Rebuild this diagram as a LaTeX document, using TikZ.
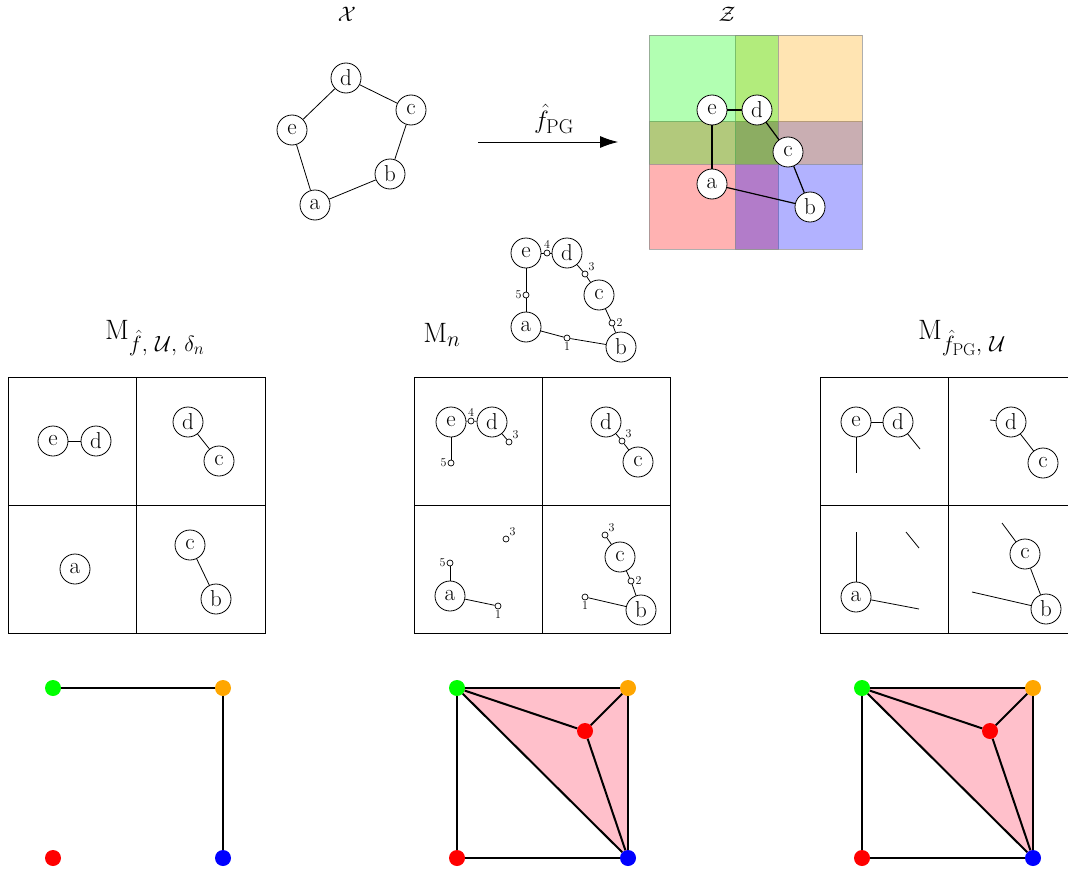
\RequirePackage{fix-cm}
\documentclass[tikz,border=0pt]{standalone}
\usetikzlibrary{arrows.meta}
\DeclareMathSizes{28}{28}{22}{17}
\DeclareMathSizes{25}{25}{20}{15}
\definecolor{zgreen}{rgb}{0,1,0}
\definecolor{zorange}{rgb}{1,0.65,0}
\definecolor{zred}{rgb}{1,0,0}
\definecolor{zblue}{rgb}{0,0,1}
\definecolor{pinkfill}{rgb}{1,0.753,0.796}
\begin{document}
\begin{tikzpicture}[x=1pt,y=-1pt,
  vtx/.style={circle,draw,fill=white,minimum size=30pt,inner sep=0pt,font=\fontsize{23}{27}\selectfont,line width=0.8pt},
  sm/.style={circle,draw,fill=white,minimum size=6pt,inner sep=0pt,line width=0.7pt},
  num/.style={font=\fontsize{12}{13}\selectfont,inner sep=1pt},
  edge/.style={line width=0.8pt},
  zedge/.style={line width=1.2pt},
  boxline/.style={line width=0.8pt},
  title/.style={font=\fontsize{21}{25}\selectfont},
  flabel/.style={font=\fontsize{25}{30}\selectfont},
  mlabel/.style={font=\fontsize{28}{33}\selectfont},
  region/.style={draw=black!45,draw opacity=0.7,fill opacity=0.3,line width=0.8pt},
  dot/.style={circle,fill,minimum size=16pt,inner sep=0pt},
  bedge/.style={line width=2pt},
]
\useasboundingbox (0,0) rectangle (1068,875);

% ---------- titles ----------
\node[title] (tX) at (347,14) {$\mathcal{X}$};
\node[title] (tZ) at (727,14) {$\mathcal{Z}$};

% ---------- graph X ----------
\node[vtx] (Xd) at (346,78) {d};
\node[vtx] (Xc) at (411,110) {c};
\node[vtx] (Xe) at (292,130) {e};
\node[vtx] (Xb) at (390,174) {b};
\node[vtx] (Xa) at (315,205) {a};
\draw[edge] (Xa) -- (Xb) -- (Xc) -- (Xd) -- (Xe) -- (Xa);

% ---------- arrow ----------
\coordinate (arS) at (478,142);
\coordinate (arE) at (618,142);
\draw[line width=0.8pt,-{Latex[length=18pt,width=12pt]}] (arS) -- (arE);
\node[flabel] (arL) at (554,119) {$\hat{f}_{\mathrm{PG}}$};

% ---------- Z ----------
\path[region,fill=zred] (649,121) rectangle (778,249);
\path[region,fill=zblue] (735,121) rectangle (862,249);
\path[region,fill=zorange] (735,35) rectangle (862,164);
\path[region,fill=zgreen] (649,35) rectangle (778,164);
\node[vtx] (Ze) at (712,110) {e};
\node[vtx] (Zd) at (757,110) {d};
\node[vtx] (Zc) at (788,152) {c};
\node[vtx] (Za) at (712,184) {a};
\node[vtx] (Zb) at (810,207) {b};
\draw[zedge] (Ze) -- (Zd);
\draw[zedge] (Zd) -- (Zc);
\draw[zedge] (Zc) -- (Zb);
\draw[zedge] (Za) -- (Zb);
\draw[zedge] (Ze) -- (Za);

% ---------- middle graph with subdivisions ----------
\node[vtx] (Ge) at (526,253) {e};
\node[vtx] (Gd) at (567,253) {d};
\node[vtx] (Gc) at (599,295) {c};
\node[vtx] (Ga) at (526,327) {a};
\node[vtx] (Gb) at (621,347) {b};
\node[sm,label={[num,label distance=0pt]above:4}] (G4) at (547,253) {};
\node[sm,label={[num,label distance=0pt]above right:3}] (G3) at (585,274) {};
\node[sm,label={[num,label distance=0pt]left:5}] (G5) at (526,295) {};
\node[sm,label={[num,label distance=0pt]right:2}] (G2) at (612,323) {};
\node[sm,label={[num,label distance=0pt]below:1}] (G1) at (567,338) {};
\draw[edge] (Ge) -- (G4) -- (Gd);
\draw[edge] (Gd) -- (G3) -- (Gc);
\draw[edge] (Gc) -- (G2) -- (Gb);
\draw[edge] (Ga) -- (G1) -- (Gb);
\draw[edge] (Ga) -- (G5) -- (Ge);

% ---------- labels ----------
\node[mlabel] (L1) at (155,338) {$\mathrm{M}_{\hat{f},\mkern6mu\mathcal{U},\mkern6mu\delta_n}$};
\node[mlabel] (L2) at (442,335) {$\mathrm{M}_{n}$};
\node[mlabel] (L3) at (962,338) {$\mathrm{M}_{\hat{f}_{\mathrm{PG}},\mkern6mu\mathcal{U}}$};

% ---------- left box ----------
\draw[boxline] (8,377) rectangle (265,633);
\draw[boxline] (136,377) -- (136,633);
\draw[boxline] (8,505) -- (265,505);
\node[vtx] (Ae) at (53,441) {e};
\node[vtx] (Ad) at (96,441) {d};
\draw[edge] (Ae) -- (Ad);
\node[vtx] (Bd) at (188,422) {d};
\node[vtx] (Bc) at (219,461) {c};
\draw[edge] (Bd) -- (Bc);
\node[vtx] (Ca) at (75,569) {a};
\node[vtx] (Dc) at (190,545) {c};
\node[vtx] (Db) at (216,599) {b};
\draw[edge] (Dc) -- (Db);

% ---------- middle box ----------
\draw[boxline] (414,377) rectangle (670,633);
\draw[boxline] (542,377) -- (542,633);
\draw[boxline] (414,505) -- (670,505);
\node[vtx] (Ee) at (451,422) {e};
\node[vtx] (Ed) at (492,422) {d};
\node[sm,label={[num,label distance=0pt]above:4}] (E4) at (471,421) {};
\node[sm,label={[num,label distance=0pt]above right:3}] (E3) at (509,442) {};
\node[sm,label={[num,label distance=0pt]left:5}] (E5) at (451,463) {};
\draw[edge] (Ee) -- (E4) -- (Ed);
\draw[edge] (Ed) -- (E3);
\draw[edge] (Ee) -- (E5);
\node[vtx] (Fd) at (606,422) {d};
\node[vtx] (Fc) at (638,462) {c};
\node[sm,label={[num,label distance=0pt]above right:3}] (F3) at (622,441) {};
\draw[edge] (Fd) -- (F3) -- (Fc);
\node[sm,label={[num,label distance=0pt]above right:3}] (H3) at (506,539) {};
\node[sm,label={[num,label distance=0pt]left:5}] (H5) at (450,563) {};
\node[vtx] (Ha) at (450,596) {a};
\node[sm,label={[num,label distance=0pt]below:1}] (H1) at (498,606) {};
\draw[edge] (H5) -- (Ha);
\draw[edge] (Ha) -- (H1);
\node[sm,label={[num,label distance=0pt]above right:3}] (I3) at (605,535) {};
\node[vtx] (Ic) at (620,557) {c};
\node[sm,label={[num,label distance=0pt]right:2}] (I2) at (631,581) {};
\node[vtx] (Ib) at (641,610) {b};
\node[sm,label={[num,label distance=0pt]below:1}] (I1) at (585,597) {};
\draw[edge] (I3) -- (Ic);
\draw[edge] (Ic) -- (I2) -- (Ib);
\draw[edge] (I1) -- (Ib);

% ---------- right box ----------
\draw[boxline] (1068,377) -- (820,377) -- (820,633) -- (1068,633);
\draw[boxline] (948,377) -- (948,633);
\draw[boxline] (820,505) -- (1068,505);
\node[vtx] (Je) at (856,422) {e};
\node[vtx] (Jd) at (898,422) {d};
\coordinate (r1) at (856,473);
\coordinate (r2) at (920,449);
\draw[edge] (Je) -- (Jd);
\draw[edge] (Je) -- (r1);
\draw[edge] (Jd) -- (r2);
\node[vtx] (Kd) at (1011,422) {d};
\node[vtx] (Kc) at (1043,463) {c};
\coordinate (r3) at (990,420);
\draw[edge] (r3) -- (Kd);
\draw[edge] (Kd) -- (Kc);
\node[vtx] (Na) at (856,597) {a};
\coordinate (r4) at (856,532);
\coordinate (r5) at (906,532);
\coordinate (r6) at (919,548);
\coordinate (r7) at (919,609);
\draw[edge] (r4) -- (Na);
\draw[edge] (r5) -- (r6);
\draw[edge] (Na) -- (r7);
\node[vtx] (Oc) at (1025,554) {c};
\node[vtx] (Ob) at (1046,609) {b};
\coordinate (r8) at (1002,523);
\coordinate (r9) at (972,592);
\draw[edge] (r8) -- (Oc);
\draw[edge] (Oc) -- (Ob);
\draw[edge] (r9) -- (Ob);

% ---------- bottom left complex ----------
\node[dot,zgreen] (P1g) at (53,688) {};
\node[dot,zorange] (P1o) at (223,688) {};
\node[dot,zred] (P1r) at (53,858) {};
\node[dot,zblue] (P1b) at (223,858) {};
\draw[bedge] (P1g) -- (P1o) -- (P1b);

% ---------- bottom middle complex ----------
\coordinate (Q2g) at (457,688);
\coordinate (Q2o) at (628,688);
\coordinate (Q2b) at (628,858);
\fill[pinkfill] (Q2g) -- (Q2o) -- (Q2b) -- cycle;
\node[dot,zgreen] (P2g) at (457,688) {};
\node[dot,zorange] (P2o) at (628,688) {};
\node[dot,zred] (P2r) at (457,858) {};
\node[dot,zblue] (P2b) at (628,858) {};
\node[dot,zred] (P2c) at (585,731) {};
\draw[bedge] (P2g) -- (P2o) -- (P2b) -- (P2r) -- (P2g);
\draw[bedge] (P2g) -- (P2b);
\draw[bedge] (P2g) -- (P2c);
\draw[bedge] (P2o) -- (P2c);
\draw[bedge] (P2c) -- (P2b);

% ---------- bottom right complex ----------
\coordinate (Q3g) at (862,688);
\coordinate (Q3o) at (1033,688);
\coordinate (Q3b) at (1033,858);
\fill[pinkfill] (Q3g) -- (Q3o) -- (Q3b) -- cycle;
\node[dot,zgreen] (P3g) at (862,688) {};
\node[dot,zorange] (P3o) at (1033,688) {};
\node[dot,zred] (P3r) at (862,858) {};
\node[dot,zblue] (P3b) at (1033,858) {};
\node[dot,zred] (P3c) at (990,731) {};
\draw[bedge] (P3g) -- (P3o) -- (P3b) -- (P3r) -- (P3g);
\draw[bedge] (P3g) -- (P3b);
\draw[bedge] (P3g) -- (P3c);
\draw[bedge] (P3o) -- (P3c);
\draw[bedge] (P3c) -- (P3b);
\end{tikzpicture}
\end{document}
